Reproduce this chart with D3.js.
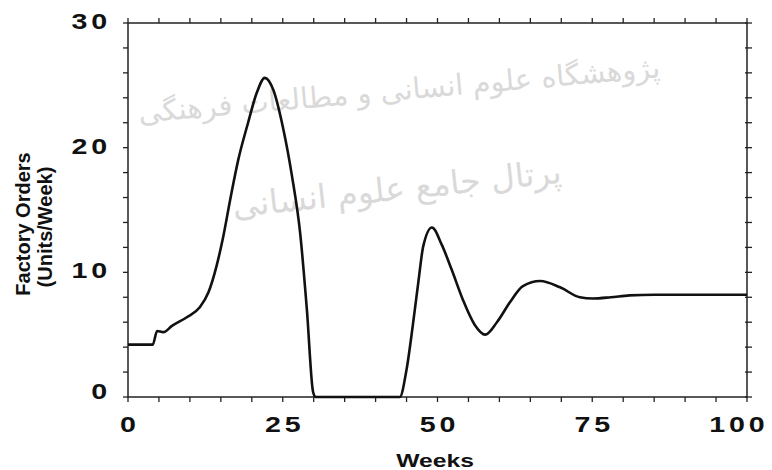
<!DOCTYPE html>
<html lang="en">
<head>
<meta charset="UTF-8">
<title>Factory Orders</title>
<script src="https://d3js.org/d3.v7.min.js"></script>
<style>
    body { margin: 0; background: #fff; }
    .tick-label { font-family: "Liberation Sans", Arial, sans-serif; font-weight: bold; font-size: 22px; letter-spacing: 3px; fill: #111; }
    .axis-title { font-family: "Liberation Sans", Arial, sans-serif; font-weight: bold; fill: #111; }
    .mark { font-family: "DejaVu Sans", sans-serif; fill: #d9d9d9; }
</style>
</head>
<body>
<div id="chart"></div>
<script>
    // values
    const weeks = [0, 4, 4.7, 5.7, 7.1, 9.5, 11.6, 13, 14.3, 15.4, 16.5, 17.8, 19.4, 20.8, 22.1, 23.5, 25, 26.5, 27.8, 28.9, 29.9, 30.3,
        43.9, 45, 46, 46.9, 47.7, 49.1, 50.7, 52.3, 54.1, 56, 57.7, 59.6, 61.7, 63.8, 66.6, 69.8, 73, 75.1, 78, 81, 85, 90, 100];
    const orders = [4.2, 4.2, 5.3, 5.2, 5.7, 6.4, 7.2, 8.4, 10.5, 12.9, 15.8, 19.0, 22.0, 24.4, 25.6, 24.6, 21.7, 17.7, 13.2, 7.0, 0.4, 0,
        0, 2.2, 5.7, 9.2, 12.1, 13.6, 12.2, 10.2, 7.8, 5.8, 5.0, 6.0, 7.6, 8.9, 9.3, 8.8, 8.0, 7.9, 8.0, 8.15, 8.2, 8.2, 8.2];
    const xLabels = [0, 25, 50, 75, 100];
    const yLabels = [0, 10, 20, 30];
    const xMinor = d3.range(0, 101, 5);
    const yMinor = d3.range(0, 31, 2);

    const width = 772, height = 470;
    const margin = { top: 23, right: 25, bottom: 73, left: 128 };
    const stretch = 1.3;   // the printed tick digits are wide

    const svg = d3.select('#chart').append('svg')
        .attr('width', width)
        .attr('height', height);

    svg.append('rect').attr('width', width).attr('height', height).attr('fill', '#fff');

    const x = d3.scaleLinear().domain([0, 100]).range([margin.left, width - margin.right]);
    const y = d3.scaleLinear().domain([0, 30]).range([height - margin.bottom, margin.top]);

    // faint watermark text from the source page
    svg.append('text').attr('class', 'mark')
        .attr('x', 400).attr('y', 100)
        .attr('text-anchor', 'middle')
        .attr('font-size', 29)
        .attr('transform', 'rotate(-5 400 100)')
        .text('پژوهشگاه علوم انسانی و مطالعات فرهنگی');
    svg.append('text').attr('class', 'mark')
        .attr('x', 398).attr('y', 200)
        .attr('text-anchor', 'middle')
        .attr('font-size', 33)
        .attr('transform', 'rotate(-6 398 200)')
        .text('پرتال جامع علوم انسانی');

    const stroke = '#222';
    const tickLen = 5;

    // frame
    svg.append('rect')
        .attr('x', x(0)).attr('y', y(30))
        .attr('width', x(100) - x(0)).attr('height', y(0) - y(30))
        .attr('fill', 'none').attr('stroke', stroke).attr('stroke-width', 1.5);

    // bottom and top ticks
    svg.append('g').selectAll('line').data(xMinor).join('line')
        .attr('x1', d => x(d)).attr('x2', d => x(d))
        .attr('y1', y(0)).attr('y2', y(0) + tickLen)
        .attr('stroke', stroke).attr('stroke-width', 1.3);
    svg.append('g').selectAll('line').data(xMinor).join('line')
        .attr('x1', d => x(d)).attr('x2', d => x(d))
        .attr('y1', y(30)).attr('y2', y(30) - tickLen)
        .attr('stroke', stroke).attr('stroke-width', 1.3);

    // left and right ticks
    svg.append('g').selectAll('line').data(yMinor).join('line')
        .attr('x1', x(0)).attr('x2', x(0) - tickLen)
        .attr('y1', d => y(d)).attr('y2', d => y(d))
        .attr('stroke', stroke).attr('stroke-width', 1.3);
    svg.append('g').selectAll('line').data(yMinor).join('line')
        .attr('x1', x(100) - 2).attr('x2', x(100) + tickLen)
        .attr('y1', d => y(d)).attr('y2', d => y(d))
        .attr('stroke', stroke).attr('stroke-width', 1.3);

    // tick labels (drawn wide, like the print); the last one is pulled in from the edge
    svg.append('g').selectAll('text').data(xLabels).join('text')
        .attr('class', 'tick-label')
        .attr('transform', d => `translate(${Math.min(x(d), width - 35)},${y(0) + 35}) scale(${stretch},1)`)
        .attr('dx', 1.5)
        .attr('text-anchor', 'middle')
        .text(d => d);

    svg.append('g').selectAll('text').data(yLabels).join('text')
        .attr('class', 'tick-label')
        .attr('transform', d => `translate(${x(0) - 17},${y(d) + (d === 0 ? 2 : 6)}) scale(${stretch},1)`)
        .attr('text-anchor', 'end')
        .text(d => d);

    // axis titles
    svg.append('text').attr('class', 'axis-title')
        .attr('transform', `translate(435,${height - 3}) scale(${stretch},1)`)
        .attr('font-size', 19)
        .attr('text-anchor', 'middle')
        .text('Weeks');

    svg.append('text').attr('class', 'axis-title')
        .attr('transform', 'translate(30,224) rotate(-90)')
        .attr('font-size', 20)
        .attr('text-anchor', 'middle')
        .text('Factory Orders');
    svg.append('text').attr('class', 'axis-title')
        .attr('transform', 'translate(52,227) rotate(-90)')
        .attr('font-size', 20)
        .attr('text-anchor', 'middle')
        .text('(Units/Week)');

    // the curve
    const line = d3.line()
        .x(d => x(d[0]))
        .y(d => y(d[1]))
        .curve(d3.curveMonotoneX);

    svg.append('path')
        .datum(d3.zip(weeks, orders))
        .attr('fill', 'none')
        .attr('stroke', '#111')
        .attr('stroke-width', 2.6)
        .attr('stroke-linejoin', 'round')
        .attr('d', line);
</script>
</body>
</html>
